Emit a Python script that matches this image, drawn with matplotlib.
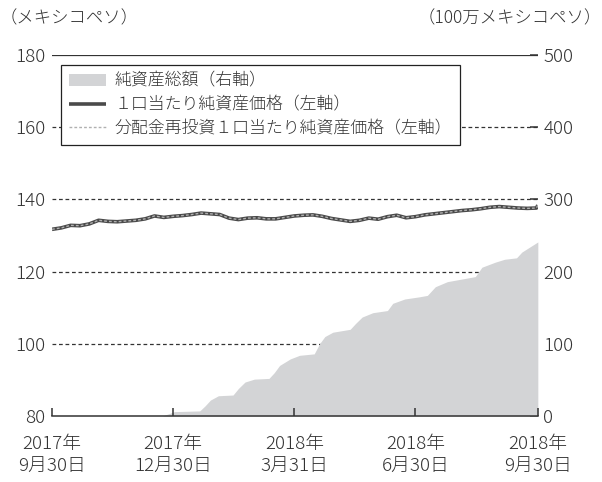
import matplotlib.pyplot as plt

plt.rcParams['font.family'] = ['Noto Sans CJK JP', 'DejaVu Sans']
plt.rcParams['font.weight'] = 'light'

# 2017年9月30日からの経過日数
nav_days = list(range(0, 365, 7)) + [365]
# 1口当たり純資産価格（メキシコペソ）
nav = [131.7, 132.1, 132.8, 132.7, 133.2, 134.2, 133.9, 133.8, 134.0, 134.2,
       134.6, 135.4, 135.0, 135.3, 135.5, 135.8, 136.2, 136.0, 135.8, 134.8,
       134.4, 134.8, 134.9, 134.6, 134.6, 135.0, 135.4, 135.6, 135.7, 135.3,
       134.7, 134.3, 133.9, 134.2, 134.8, 134.5, 135.2, 135.6, 134.9, 135.2,
       135.7, 136.0, 136.3, 136.6, 136.9, 137.1, 137.4, 137.8, 138.0, 137.8,
       137.6, 137.5, 137.6, 138.4]

# 純資産総額（100万メキシコペソ）
asset_days = [0, 83, 89, 92, 111, 115, 119, 125, 136, 140, 145, 152, 163, 167,
              171, 179, 186, 197, 201, 205, 211, 224, 228, 233, 241, 252, 256,
              265, 276, 282, 288, 297, 312, 318, 323, 333, 340, 349, 353, 359, 365]
assets = [0, 0, 4, 6, 7, 14, 22, 28, 29, 38, 47, 51, 52, 60, 70, 79, 84, 86,
          100, 110, 116, 120, 128, 137, 143, 146, 156, 162, 165, 167, 179, 186,
          191, 193, 206, 213, 217, 219, 227, 234, 241]

x_ticks = [0, 91, 182, 273, 365]
x_labels = ['2017年\n9月30日', '2017年\n12月30日', '2018年\n3月31日',
            '2018年\n6月30日', '2018年\n9月30日']
left_ticks = [80, 100, 120, 140, 160, 180]
right_ticks = [0, 100, 200, 300, 400, 500]

txt = '#333333'
fig = plt.figure(figsize=(6.02, 4.82), dpi=100)
ax = fig.add_axes([0.0864, 0.137, 0.807, 0.749])
ax2 = ax.twinx()
ax.set_zorder(ax2.get_zorder() + 1)
ax.patch.set_visible(False)

# 右軸：純資産総額と目盛線
for v in right_ticks[1:]:
    ax2.axhline(v, color='#333333', lw=0.9,
                ls='-' if v == 500 else (0, (3, 2.2)), zorder=1)
area = ax2.fill_between(asset_days, assets, color='#d3d4d6', lw=0, zorder=2,
                        label='純資産総額（右軸）')
ax2.set_ylim(0, 500)
ax2.set_yticks(right_ticks)
ax2.tick_params(axis='y', direction='in', length=6, width=1.1, color='#333333',
                pad=4, labelsize=13.5, labelcolor=txt)

# 左軸：1口当たり純資産価格
l1, = ax.plot(nav_days, nav, color='#4a4a4a', lw=2.6, solid_capstyle='butt',
              label='１口当たり純資産価格（左軸）')
l2, = ax.plot(nav_days, nav, color='#b0b0b0', lw=1.0, ls=(0, (2, 1.5)),
              label='分配金再投資１口当たり純資産価格（左軸）')
ax.set_ylim(80, 180)
ax.set_yticks(left_ticks)
ax.set_xlim(0, 365)
ax.set_xticks(x_ticks)
ax.set_xticklabels(x_labels, linespacing=1.3)
ax.tick_params(axis='y', length=0, pad=5, labelsize=13.5, labelcolor=txt)
ax.tick_params(axis='x', direction='in', length=6, width=1.1, color='#333333',
               pad=14, labelsize=13.5, labelcolor=txt)

for s in ['top', 'left', 'right']:
    ax.spines[s].set_visible(False)
for s in ax2.spines.values():
    s.set_visible(False)
ax.spines['bottom'].set_color('#333333')
ax.spines['bottom'].set_linewidth(1.1)

leg = ax.legend([area, l1, l2], [area.get_label(), l1.get_label(), l2.get_label()],
                loc='upper left', bbox_to_anchor=(0.0185, 0.972), borderaxespad=0,
                fontsize=12.2, frameon=True, fancybox=False, framealpha=1,
                edgecolor='#222222', handlelength=2.2, handletextpad=0.5,
                labelspacing=0.4, borderpad=0.45, labelcolor=txt)
leg.get_frame().set_linewidth(0.9)

fig.text(0.0, 1 - 18 / 482, '（メキシコペソ）', ha='left', va='center',
         fontsize=12.5, color=txt)
fig.text(1.0, 1 - 18 / 482, '（100万メキシコペソ）', ha='right', va='center',
         fontsize=12.5, color=txt)

fig.savefig('out.png', dpi=100)
